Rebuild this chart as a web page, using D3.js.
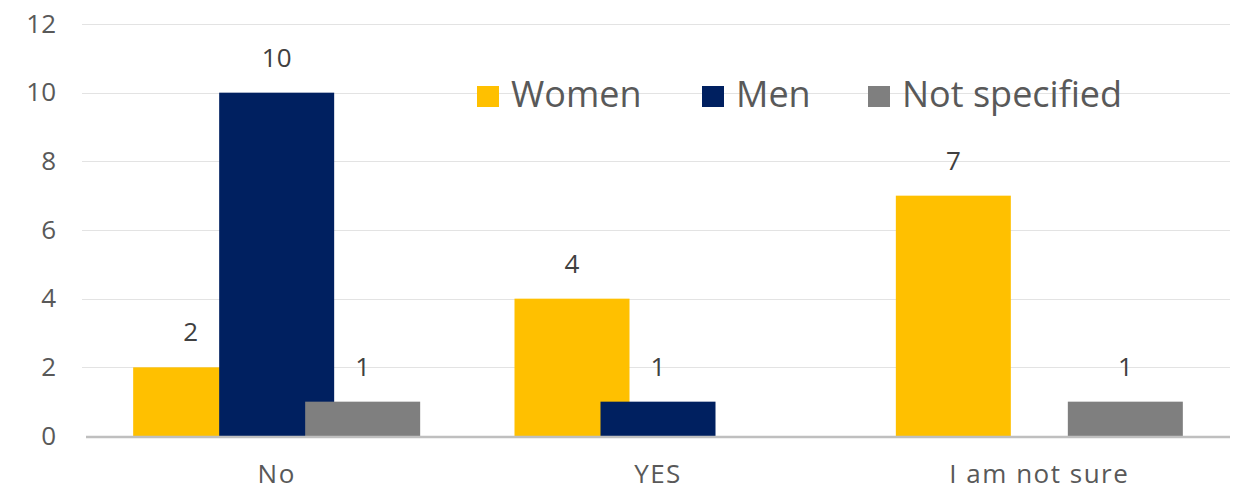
<!DOCTYPE html>
<html>
<head>
<meta charset="utf-8">
<script src="https://cdn.jsdelivr.net/npm/d3@7"></script>
<style>
  html, body { margin: 0; padding: 0; background: #fff; }
  svg { display: block; font-family: "Open Sans", "Noto Sans", sans-serif; }
</style>
</head>
<body>
<svg id="chart" width="1236" height="491"></svg>
<script>
// Survey answers by gender
const categories = ["No", "YES", "I am not sure"];
const seriesNames = ["Women", "Men", "Not specified"];
const women = [2, 4, 7];
const men = [10, 1, 0];
const notSpecified = [1, 0, 1];
const yTicks = [0, 2, 4, 6, 8, 10, 12];

const colors = { "Women": "#FFC000", "Men": "#002060", "Not specified": "#7F7F7F" };
const seriesValues = { "Women": women, "Men": men, "Not specified": notSpecified };

const svg = d3.select("#chart");
const plot = { left: 86, right: 1230, top: 24, bottom: 436 };

const y = d3.scaleLinear().domain([0, 12]).range([plot.bottom, plot.top]);
const x0 = d3.scaleBand().domain(categories).range([plot.left, plot.right]).padding(0);

// bars overlap their neighbours inside a group
const barStep = 86, barWidth = 115;
const x1 = d3.scaleBand().domain(seriesNames).range([0, barStep * seriesNames.length]);
const groupWidth = barStep * (seriesNames.length - 1) + barWidth;

// gridlines
svg.append("g")
  .selectAll("line")
  .data(yTicks.filter(t => t > 0))
  .join("line")
  .attr("x1", plot.left - 4).attr("x2", plot.right)
  .attr("y1", d => Math.round(y(d)) + 0.5).attr("y2", d => Math.round(y(d)) + 0.5)
  .attr("stroke", "#E3E3E3").attr("stroke-width", 1);

// y axis labels
const yAxis = d3.axisLeft(y).tickValues(yTicks).tickSize(0).tickPadding(0);
const gy = svg.append("g").attr("transform", "translate(56,0)").call(yAxis);
gy.select(".domain").remove();
gy.selectAll("text")
  .attr("fill", "#595959").attr("font-size", 26)
  .attr("font-family", "Open Sans, sans-serif");

// bars
const rows = [];
seriesNames.forEach(s => {
  categories.forEach((c, i) => rows.push({ series: s, cat: c, value: seriesValues[s][i] }));
});
const barX = d => x0(d.cat) + (x0.bandwidth() - groupWidth) / 2 + x1(d.series);

svg.append("g")
  .selectAll("rect")
  .data(rows.filter(d => d.value > 0))
  .join("rect")
  .attr("x", barX)
  .attr("width", barWidth)
  .attr("y", d => y(d.value))
  .attr("height", d => y(0) - y(d.value))
  .attr("fill", d => colors[d.series]);

// value labels
svg.append("g")
  .selectAll("text")
  .data(rows.filter(d => d.value > 0))
  .join("text")
  .attr("x", d => barX(d) + barWidth / 2)
  .attr("y", d => y(d.value) - 26)
  .attr("text-anchor", "middle")
  .attr("font-size", 26)
  .attr("fill", "#404040")
  .text(d => d.value);

// baseline
svg.append("line")
  .attr("x1", plot.left).attr("x2", plot.right)
  .attr("y1", y(0) + 1).attr("y2", y(0) + 1)
  .attr("stroke", "#BFBFBF").attr("stroke-width", 2.5);

// category labels
const xAxis = d3.axisBottom(x0).tickSize(0).tickPadding(0);
const gx = svg.append("g").attr("transform", `translate(0,${y(0)})`).call(xAxis);
gx.select(".domain").remove();
gx.selectAll("text")
  .attr("y", 47).attr("dy", 0)
  .attr("fill", "#595959").attr("font-size", 26)
  .attr("letter-spacing", 1.5)
  .attr("font-family", "Open Sans, sans-serif");

// legend
const legendX = [477, 702, 868];
const legend = svg.append("g")
  .selectAll("g")
  .data(seriesNames)
  .join("g")
  .attr("transform", (d, i) => `translate(${legendX[i]},0)`);
legend.append("rect")
  .attr("x", 0).attr("y", 86).attr("width", 22).attr("height", 21)
  .attr("fill", d => colors[d]);
legend.append("text")
  .attr("x", 34).attr("y", 107)
  .attr("font-size", 36)
  .attr("fill", "#595959")
  .text(d => d);
</script>
</body>
</html>
